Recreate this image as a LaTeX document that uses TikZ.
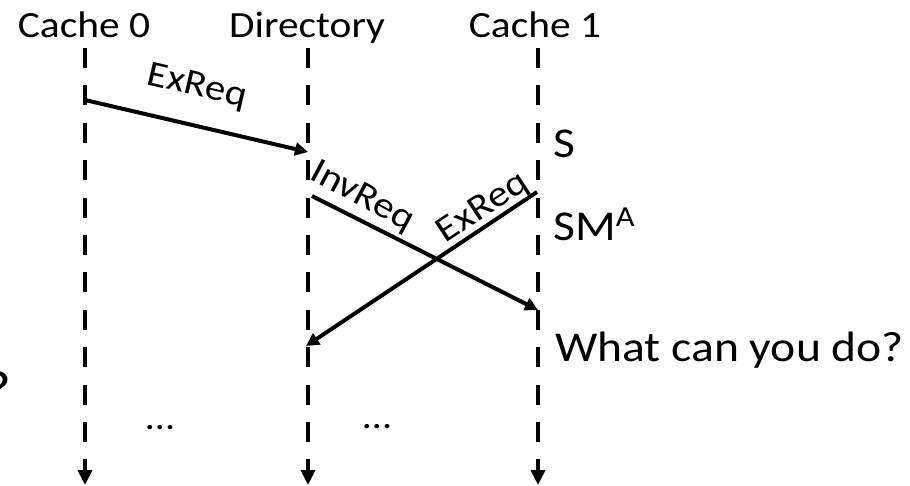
\documentclass[tikz,border=0pt]{standalone}
\usepackage{fontspec}
\setmainfont{Carlito}[FakeStretch=1.12]
\usetikzlibrary{arrows.meta}

\tikzset{
  lifeline/.style={line width=4.5pt, dash pattern=on 20pt off 17.4pt,
    -{Triangle[length=15pt,width=14pt]}},
  msg/.style={line width=4pt, -{Triangle[length=13pt,width=13pt]}},
  head/.style={anchor=base, inner sep=0pt, font=\fontsize{37}{42}\selectfont},
  msglabel/.style={inner sep=0pt, font=\fontsize{36.5}{42}\selectfont},
  state/.style={anchor=base west, inner sep=0pt, font=\fontsize{42.5}{48}\selectfont},
  dots/.style={inner sep=0pt, font=\fontsize{36}{40}\selectfont},
}

\begin{document}
\begin{tikzpicture}[x=1pt, y=-1pt]
  \useasboundingbox (0,0) rectangle (910,485);

  % column headers
  \node[head] (h0) at (84,37) {Cache 0};
  \node[head] (hd) at (307,37) {Directory};
  \node[head] (h1) at (535,37) {Cache 1};

  % lifelines
  \coordinate (c0top) at (85,48);
  \coordinate (c0bot) at (85,485);
  \coordinate (dtop) at (308,48);
  \coordinate (dbot) at (308,485);
  \coordinate (c1top) at (538,48);
  \coordinate (c1bot) at (538,485);
  \draw[lifeline] (c0top) -- (c0bot);
  \draw[lifeline] (dtop) -- (dbot);
  \draw[lifeline] (c1top) -- (c1bot);

  % message end points
  \coordinate (m1s) at (85,100);
  \coordinate (m1e) at (308,152);
  \coordinate (m2s) at (312,196);
  \coordinate (m2e) at (538,310);
  \coordinate (m3s) at (537,192);
  \coordinate (m3e) at (306,346);

  % messages
  \draw[msg] (m1s) -- (m1e);
  \draw[msg] (m2s) -- (m2e);
  \draw[msg] (m3s) -- (m3e);

  \node[msglabel, rotate=-13] (l1) at (197,87) {ExReq};
  \node[msglabel, rotate=-28] (l2) at (362,197) {InvReq};
  \node[msglabel, rotate=33.5] (l3) at (483,208) {ExReq};

  % cache 1 states
  \node[state] (s1) at (553,157) {S};
  \node[state] (s2) at (553,240) {SM\raisebox{14pt}{\fontsize{29}{32}\selectfont A}};
  \node[state] (q1) at (555,361) {What can you do?};

  % continuation marks
  \node[dots] (d1) at (160,428) {\dots};
  \node[dots] (d2) at (377,427) {\dots};

  % trailing question mark at the left edge
  \node[anchor=base east, inner sep=0pt, font=\fontsize{54}{58}\selectfont] (q0) at (12,408) {?};
\end{tikzpicture}
\end{document}
